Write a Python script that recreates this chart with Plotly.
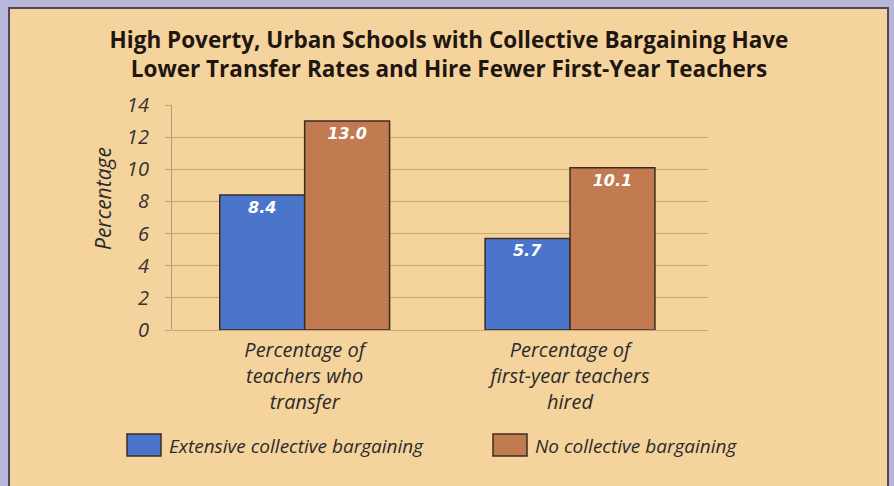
import plotly.graph_objects as go

categories = ["Percentage of<br>teachers who<br>transfer",
              "Percentage of<br>first-year teachers<br>hired"]
series_names = ["Extensive collective bargaining", "No collective bargaining"]
extensive = [8.4, 5.7]
none_cb = [13.0, 10.1]
y_ticks = [0, 2, 4, 6, 8, 10, 12, 14]
colors = ["#4b75cb", "#c27b50"]

W, H = 894, 486
L, R, T, B = 172, 708, 105, 330

def px_x(p):
    return (p - L) / (R - L)

def px_y(p):
    return (B - p) / (B - T)

fig = go.Figure()
for name, vals, col in zip(series_names, [extensive, none_cb], colors):
    fig.add_trace(go.Bar(
        x=categories, y=vals, name=name,
        marker=dict(color=col, line=dict(color="#3b2c22", width=1.5)),
        texttemplate="%{y:.1f}", textposition="inside", insidetextanchor="end",
        textfont=dict(family="DejaVu Sans", size=16, color="white", weight="bold", style="italic"),
        showlegend=False,
    ))

shapes = [
    dict(type="rect", xref="paper", yref="paper", layer="below",
         x0=px_x(9), x1=px_x(888), y0=px_y(500), y1=px_y(8),
         fillcolor="#f5d39c", line=dict(color="#4b4a55", width=2)),
]
annotations = []
leg = [(127, 161, 167), (493, 527, 533)]
for (x0, x1, tx), name, col in zip(leg, series_names, colors):
    shapes.append(dict(type="rect", xref="paper", yref="paper",
                       x0=px_x(x0), x1=px_x(x1), y0=px_y(456), y1=px_y(434),
                       fillcolor=col, line=dict(color="#3b2c22", width=1.5)))
    annotations.append(dict(xref="paper", yref="paper", x=px_x(tx), y=px_y(446),
                            xanchor="left", yanchor="middle", showarrow=False,
                            text=name,
                            font=dict(family="Open Sans", size=19, color="#2b2b2b", style="italic")))

annotations.append(dict(xref="paper", yref="paper", x=px_x(103), y=px_y(199),
                        xanchor="center", yanchor="middle", showarrow=False,
                        text="Percentage", textangle=-90,
                        font=dict(family="Open Sans", size=21, color="#2b2b2b", style="italic")))

fig.update_layout(
    width=W, height=H,
    margin=dict(l=L, r=W - R, t=T, b=H - B),
    paper_bgcolor="#b6b7da",
    plot_bgcolor="rgba(0,0,0,0)",
    barmode="group", bargap=0.36, bargroupgap=0,
    title=dict(text="High Poverty, Urban Schools with Collective Bargaining Have<br>Lower Transfer Rates and Hire Fewer First-Year Teachers",
               x=449 / W, xref="container", xanchor="center", y=1 - 48 / H, yanchor="middle",
               font=dict(family="Open Sans", size=22.5, color="#1f1610", weight="bold")),
    shapes=shapes, annotations=annotations,
    xaxis=dict(range=[-0.5, 1.52], showgrid=False, showline=False, ticks="",
               tickfont=dict(family="Open Sans", size=20, color="#2b2b2b", style="italic"),
               ticklabelstandoff=6),
    yaxis=dict(range=[0, 14], tickvals=y_ticks, showgrid=True, gridcolor="#c8a574", gridwidth=1.2,
               zeroline=True, zerolinecolor="#c8a574", zerolinewidth=1.2,
               showline=True, linecolor="#b09a78", linewidth=1.2,
               ticks="outside", ticklen=6, tickcolor="#c8a574",
               ticklabelstandoff=12,
               tickfont=dict(family="Open Sans", size=20, color="#333333", style="italic")),
)

fig.write_html("out.html")
